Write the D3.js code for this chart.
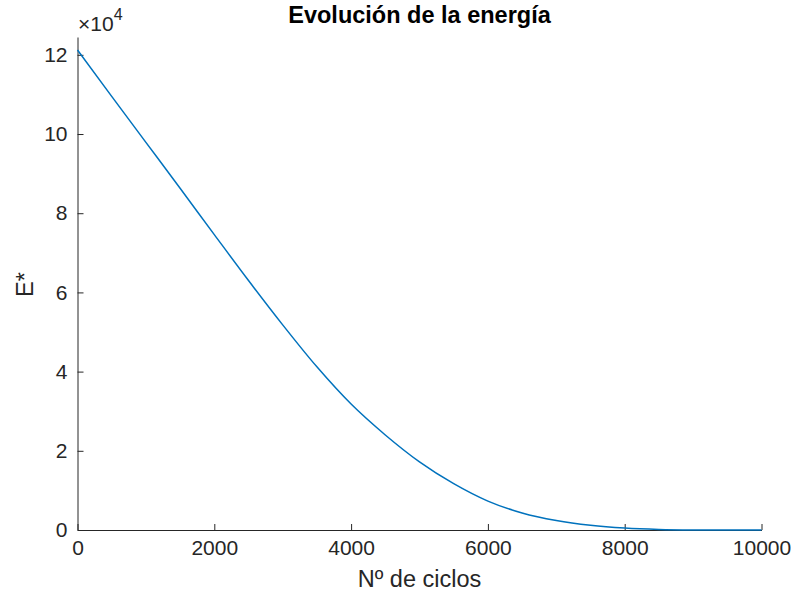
<!DOCTYPE html>
<html>
<head>
<meta charset="utf-8">
<script src="https://cdn.jsdelivr.net/npm/d3@7"></script>
<style>
  body { margin: 0; background: #fff; }
  text { font-family: "Liberation Sans", Arial, sans-serif; fill: #262626; }
</style>
</head>
<body>
<div id="chart"></div>
<script>
// ciclos (eje x) y energia E* en unidades de 1e4
const ciclos = [0, 500, 1000, 1500, 2000, 2500, 3000, 3500, 4000, 4500, 5000,
                5500, 6000, 6500, 7000, 7500, 8000, 8500, 9000, 9500, 10000];
const energia = [12.12, 10.95, 9.79, 8.63, 7.46, 6.30, 5.18, 4.12, 3.18, 2.40, 1.72,
                 1.17, 0.73, 0.43, 0.24, 0.12, 0.05, 0.015, 0.003, 0, 0];
const xTicks = [0, 2000, 4000, 6000, 8000, 10000];
const yTicks = [0, 2, 4, 6, 8, 10, 12];

const width = 795, height = 595;
const margin = {top: 37, right: 33, bottom: 65, left: 77.5};

const svg = d3.select('#chart')
    .append('svg')
    .attr('width', width)
    .attr('height', height);

const x = d3.scaleLinear()
    .domain([0, 10000])
    .range([margin.left, width - margin.right - 0.5]);

const y = d3.scaleLinear()
    .domain([0, 12.45])
    .range([530, margin.top]);

// eje x
const xAxis = svg.append('g')
    .attr('transform', 'translate(0,530)')
    .call(d3.axisBottom(x).tickValues(xTicks).tickFormat(d3.format('d'))
        .tickSizeInner(-6).tickSizeOuter(0).tickPadding(10));
// eje y
const yAxis = svg.append('g')
    .attr('transform', 'translate(' + margin.left + ',0)')
    .call(d3.axisLeft(y).tickValues(yTicks).tickFormat(d3.format('d'))
        .tickSizeInner(-6).tickSizeOuter(0).tickPadding(10));

[xAxis, yAxis].forEach(function(a) {
    a.attr('font-size', 21).attr('font-family', '"Liberation Sans", Arial, sans-serif');
    a.select('.domain').attr('stroke', '#262626').attr('stroke-width', 1);
    a.selectAll('.tick line').attr('stroke', '#262626');
    a.selectAll('.tick text').attr('fill', '#262626');
});

// curva
svg.append('path')
    .datum(ciclos.map(function(c, i) { return [c, energia[i]]; }))
    .attr('fill', 'none')
    .attr('stroke', '#0072BD')
    .attr('stroke-width', 1.5)
    .attr('d', d3.line()
        .x(function(d) { return x(d[0]); })
        .y(function(d) { return y(d[1]); })
        .curve(d3.curveMonotoneX));

// titulo
svg.append('text')
    .attr('x', (x.range()[0] + x.range()[1]) / 2)
    .attr('y', 23)
    .attr('text-anchor', 'middle')
    .attr('font-size', 23.5)
    .attr('font-weight', 'bold')
    .style('fill', '#000')
    .text('Evolución de la energía');

// multiplicador
const mult = svg.append('text')
    .attr('x', 78)
    .attr('y', 31)
    .attr('font-size', 21);
mult.append('tspan').text('×');
mult.append('tspan').text('10');
mult.append('tspan').attr('dy', -11).attr('font-size', 16).text('4');

// etiquetas de ejes
svg.append('text')
    .attr('x', (x.range()[0] + x.range()[1]) / 2)
    .attr('y', 587)
    .attr('text-anchor', 'middle')
    .attr('font-size', 23.5)
    .text('Nº de ciclos');

svg.append('text')
    .attr('transform', 'translate(33,' + ((530 + margin.top) / 2 + 1) + ') rotate(-90)')
    .attr('text-anchor', 'middle')
    .attr('font-size', 23.5)
    .text('E*');
</script>
</body>
</html>
